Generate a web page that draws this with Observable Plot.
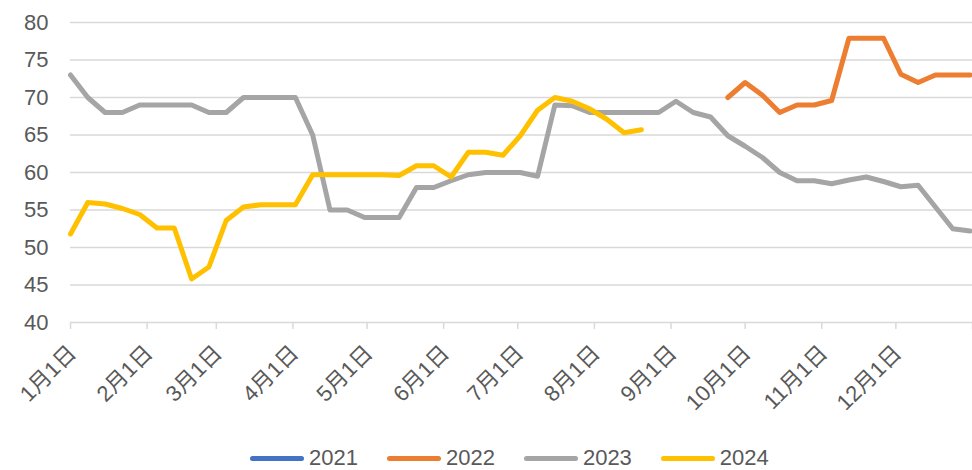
<!DOCTYPE html>
<html>
<head>
<meta charset="utf-8">
<script src="https://cdn.jsdelivr.net/npm/d3@7"></script>
<script src="https://cdn.jsdelivr.net/npm/@observablehq/plot@0.6"></script>
<style>
  html, body { margin: 0; padding: 0; background: #fff; }
  #chart { width: 972px; height: 470px; position: relative; overflow: hidden; }
  .legend { display: flex; align-items: center; padding-left: 250px; padding-top: 6px; height: 24px;
    font-family: "Liberation Sans", Arial, sans-serif; font-size: 22px; color: #595959; }
  .legend .item { display: flex; align-items: center; margin-right: 29px; }
  .legend .sw { width: 54px; height: 5px; border-radius: 3px; margin-right: 5px; }
</style>
</head>
<body>
<div id="chart"></div>
<script>
// ---- data ----
const seriesNames = ["2021", "2022", "2023", "2024"];
const seriesColors = ["#4472C4", "#ED7D31", "#A5A5A5", "#FFC000"];
// weekly readings, week index counted from Jan 1
const start2021 = 0;
const values2021 = [];
const start2022 = 38;
const values2022 = [70.0, 72.0, 70.3, 68.0, 69.0, 69.0, 69.6, 77.9, 77.9, 77.9, 73.1, 72.0, 73.0, 73.0, 73.0];
const start2023 = 0;
const values2023 = [73, 70, 68, 68, 69, 69, 69, 69, 68, 68, 70, 70, 70, 70, 65, 55, 55, 54, 54, 54,
  58, 58, 58.9, 59.7, 60, 60, 60, 59.5, 69, 68.9, 68, 68, 68, 68, 68, 69.5, 68, 67.4, 64.9, 63.5,
  62, 60, 58.9, 58.9, 58.5, 59, 59.4, 58.8, 58.1, 58.3, 55.4, 52.5, 52.2];
const start2024 = 0;
const values2024 = [51.8, 56.0, 55.8, 55.2, 54.4, 52.6, 52.6, 45.8, 47.4, 53.6, 55.4, 55.7, 55.7, 55.7,
  59.7, 59.7, 59.7, 59.7, 59.7, 59.6, 60.9, 60.9, 59.4, 62.7, 62.7, 62.3, 64.9, 68.3, 70.0, 69.5,
  68.5, 67.1, 65.3, 65.7];
const monthLabels = ["1月1日", "2月1日", "3月1日", "4月1日", "5月1日", "6月1日", "7月1日", "8月1日", "9月1日", "10月1日", "11月1日", "12月1日"];
const yTicks = [40, 45, 50, 55, 60, 65, 70, 75, 80];

// ---- build table ----
const baseYear = 2023;
const weekDate = k => new Date(Date.UTC(baseYear, 0, 1 + 7 * k));
const starts = [start2021, start2022, start2023, start2024];
const vals = [values2021, values2022, values2023, values2024];
const rows = [];
seriesNames.forEach((name, i) => {
  vals[i].forEach((v, j) => rows.push({series: name, date: weekDate(starts[i] + j), value: v}));
});
const monthTicks = monthLabels.map((_, m) => new Date(Date.UTC(baseYear, m, 1)));
const endDate = new Date(Date.UTC(baseYear + 1, 0, 1));
const labelOf = new Map(monthTicks.map((d, m) => [+d, monthLabels[m]]));

const font = '"Liberation Sans", Arial, "Noto Sans CJK SC", sans-serif';

const chart = Plot.plot({
  width: 972,
  height: 440,
  marginLeft: 70,
  marginRight: 0,
  marginTop: 22,
  marginBottom: 118,
  style: {fontFamily: font, color: "#595959", background: "#fff", overflow: "visible"},
  x: {type: "utc", domain: [monthTicks[0], endDate]},
  y: {domain: [40, 80]},
  color: {domain: seriesNames, range: seriesColors},
  marks: [
    Plot.gridY(yTicks, {stroke: "#D9D9D9", strokeOpacity: 1, strokeWidth: 1.5}),
    Plot.axisX([...monthTicks, endDate], {
      tickSize: 7, stroke: "#D9D9D9", strokeWidth: 1.5, strokeOpacity: 1,
      text: null, label: null
    }),
    Plot.axisX(monthTicks, {
      tickSize: 7, tickRotate: -45, tickPadding: 20, dx: 2, stroke: null,
      tickFormat: d => labelOf.get(+d),
      fontSize: 22, fill: "#595959", label: null
    }),
    Plot.axisY(yTicks, {tickSize: 0, tickPadding: 22, fontSize: 22, fill: "#595959", label: null}),
    Plot.lineY(rows, {
      x: "date", y: "value", z: "series", stroke: "series",
      strokeWidth: 5, strokeLinecap: "round", strokeLinejoin: "round"
    })
  ]
});

const container = document.getElementById("chart");
container.appendChild(chart);

const legend = document.createElement("div");
legend.className = "legend";
seriesNames.forEach((name, i) => {
  const item = document.createElement("div");
  item.className = "item";
  const sw = document.createElement("span");
  sw.className = "sw";
  sw.style.background = seriesColors[i];
  const t = document.createElement("span");
  t.textContent = name;
  item.appendChild(sw);
  item.appendChild(t);
  legend.appendChild(item);
});
container.appendChild(legend);
</script>
</body>
</html>
